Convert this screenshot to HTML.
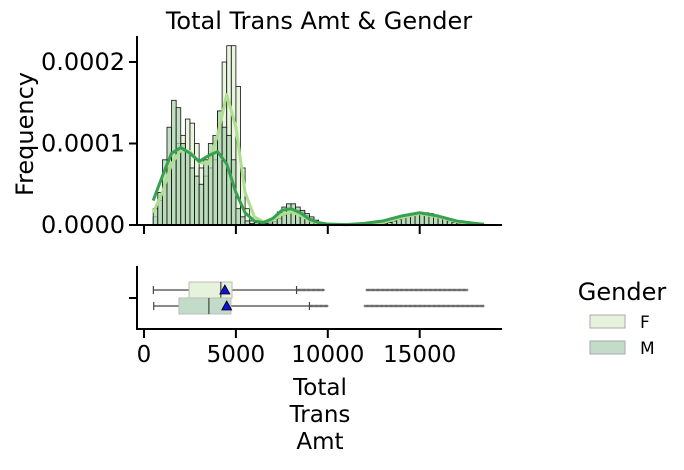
<!DOCTYPE html>
<html><head><meta charset="utf-8"><style>
body{margin:0;background:#fff;}
svg text{font-family:"DejaVu Sans","Liberation Sans",sans-serif;fill:#000;}
</style></head><body>
<svg id="c" width="684" height="465" viewBox="0 0 684 465" xmlns="http://www.w3.org/2000/svg">
<text x="319" y="29" font-size="24" text-anchor="middle">Total Trans Amt &amp; Gender</text>
<text transform="translate(33,134) rotate(-90)" font-size="24" text-anchor="middle">Frequency</text>
<g id="hist"></g>
<g id="box"></g>
<text x="320" y="395" font-size="23" text-anchor="middle">Total</text>
<text x="320" y="422" font-size="23" text-anchor="middle">Trans</text>
<text x="320" y="449" font-size="23" text-anchor="middle">Amt</text>
<g>
<text x="622" y="300" font-size="24" text-anchor="middle">Gender</text>
<rect x="590" y="315" width="35" height="13" fill="#e6f2dc" stroke="#aaa"/>
<text x="640" y="328" font-size="17">F</text>
<rect x="590" y="341" width="35" height="13" fill="#c3dcc9" stroke="#aaa"/>
<text x="640" y="354" font-size="17">M</text>
</g>
</svg>
<script>
const binStart = 500, binWidth = 250;
// densities x1e-5 per bin, bins starting at 500
const histF = [1,3,5,7,9,10,11,13,12.5,10,7,6,7,8,14,20,22,22,17,7,2,0.5,0.3,0.2,0.1,0.2,0.4,0.8,1.2,1.6,1.8,1.8,1.6,1.2,0.8,0.5,0.3,0.1,0,0,0,0,0,0,0,0,0,0,0,0.1,0.2,0.3,0.5,0.7,0.9,1.1,1.3,1.4,1.5,1.4,1.3,1.1,0.9,0.7,0.5,0.3,0.2,0.1,0.05];
const histM = [2,4,8,12,15.3,14.4,10,9,7,6,5,8,10,11,14,12,11,8,2,1,0.5,0.2,0.1,0.1,0.2,0.4,0.8,1.6,2.2,2.6,2.6,2.2,1.8,1.4,1,0.6,0.3,0.2,0.1,0,0,0,0,0,0,0,0,0,0,0.1,0.2,0.3,0.5,0.7,0.9,1.1,1.3,1.4,1.5,1.5,1.4,1.2,1.0,0.8,0.5,0.3,0.2,0.1,0.05,0.05,0.05,0.05];
const kdeX = [500,1000,1500,2000,2500,3000,3500,4000,4500,5000,5500,6000,6500,7000,7500,8000,8500,9000,9500,10000,11000,12000,13000,14000,15000,16000,17000,18000,18500];
const kdeF = [1.5,4,7.5,9.2,9,7.7,7.5,11,16,12,4,1,0.4,0.6,1.3,1.6,1.2,0.6,0.2,0.1,0.05,0.1,0.3,0.9,1.4,1,0.4,0.1,0.05];
const kdeM = [3,6,8.8,9.5,8.8,7.8,8.5,9,7.5,4,1.5,0.5,0.3,0.8,1.8,2,1.5,0.7,0.3,0.1,0.05,0.2,0.5,1.1,1.5,1.1,0.5,0.2,0.1];
const yTicks = [0,0.0001,0.0002];
const yTickLabels = ["0.0000","0.0001","0.0002"];
const xTicks = [0,5000,10000,15000];
// box stats: [whiskLo, q1, median, q3, whiskHi, mean]
const boxF = [510,2450,4180,4790,8300,4400];
const boxM = [530,1900,3530,4730,9000,4500];
const outF = [[8300,9800],[12100,17600]];
const outM = [[9000,10000],[12000,18500]];

const NS="http://www.w3.org/2000/svg";
const X = v => 144 + v*0.01838;
const Y = v => 225 - v*815000;
function mk(p,t,a){const e=document.createElementNS(NS,t);for(const k in a)e.setAttribute(k,a[k]);p.appendChild(e);return e;}
const H=document.getElementById('hist'), B=document.getElementById('box');

function bars(arr,fill,name){
  arr.forEach((d,i)=>{ if(d<=0) return;
    const x0=X(binStart+i*binWidth), x1=X(binStart+(i+1)*binWidth);
    const r=mk(H,'rect',{x:x0,y:Y(d*1e-5),width:x1-x0,height:225-Y(d*1e-5),fill:fill,'fill-opacity':0.75,stroke:'#111','stroke-width':0.8});
    
    
  });
}
bars(histF,'#e3f1d6','hist-bar-f');
bars(histM,'#a9d3ae','hist-bar-m');
function line(arr,col,name){
  const p=mk(H,'path',{d:arr.map((v,i)=>(i?'L':'M')+X(kdeX[i])+','+Y(v*1e-5)).join(''),fill:'none',stroke:col,'stroke-width':3,'stroke-linejoin':'round'});
  
  
}
line(kdeF,'#addf8e','kde-line-f');
line(kdeM,'#36a151','kde-line-m');
mk(H,'line',{x1:137,y1:36,x2:137,y2:226,stroke:'#000','stroke-width':2});
mk(H,'line',{x1:136,y1:225,x2:502,y2:225,stroke:'#000','stroke-width':2});
yTicks.forEach((t,i)=>{
  mk(H,'line',{x1:129,y1:Y(t),x2:137,y2:Y(t),stroke:'#000','stroke-width':2});
  const tx=mk(H,'text',{x:125,y:Y(t)+8,'font-size':24,'text-anchor':'end'});tx.textContent=yTickLabels[i];
  
  
});
xTicks.forEach(t=>{
  mk(H,'line',{x1:X(t),y1:225,x2:X(t),y2:234,stroke:'#000','stroke-width':2});
  mk(B,'line',{x1:X(t),y1:329,x2:X(t),y2:338,stroke:'#000','stroke-width':2});
  const tx=mk(B,'text',{x:X(t),y:362,'font-size':23,'text-anchor':'middle'});tx.textContent=t;
  
  
});
mk(B,'line',{x1:137,y1:266,x2:137,y2:330,stroke:'#000','stroke-width':2});
mk(B,'line',{x1:136,y1:329,x2:502,y2:329,stroke:'#000','stroke-width':2});
mk(B,'line',{x1:129,y1:298,x2:137,y2:298,stroke:'#000','stroke-width':2});
function box(s,cy,fill,outs,name){
  const g=mk(B,'g',{});
  
  
  outs.forEach(r=>{ for(let v=r[0];v<=r[1];v+=45){
    mk(g,'line',{x1:X(v)-1.2,y1:cy,x2:X(v)+1.2,y2:cy,stroke:'#555','stroke-width':0.6});
    mk(g,'line',{x1:X(v),y1:cy-1.2,x2:X(v),y2:cy+1.2,stroke:'#555','stroke-width':0.6});
  }});
  mk(g,'line',{x1:X(s[0]),y1:cy,x2:X(s[1]),y2:cy,stroke:'#444','stroke-width':1.2});
  mk(g,'line',{x1:X(s[3]),y1:cy,x2:X(s[4]),y2:cy,stroke:'#444','stroke-width':1.2});
  mk(g,'line',{x1:X(s[0]),y1:cy-4,x2:X(s[0]),y2:cy+4,stroke:'#444','stroke-width':1.2});
  mk(g,'line',{x1:X(s[4]),y1:cy-4,x2:X(s[4]),y2:cy+4,stroke:'#444','stroke-width':1.2});
  mk(g,'rect',{x:X(s[1]),y:cy-8,width:X(s[3])-X(s[1]),height:16,fill:fill,stroke:'#bbb'});
  mk(g,'line',{x1:X(s[2]),y1:cy-8,x2:X(s[2]),y2:cy+8,stroke:'#444','stroke-width':1.2});
  const m=X(s[5]);
  mk(g,'polygon',{points:`${m-5},${cy+4} ${m+5},${cy+4} ${m},${cy-5}`,fill:'#1010e0',stroke:'#000','stroke-width':0.8});
}
box(boxF,290,'#e6f2dc',outF,'box-f');
box(boxM,306,'#c3dcc9',outM,'box-m');
</script>
</body></html>
